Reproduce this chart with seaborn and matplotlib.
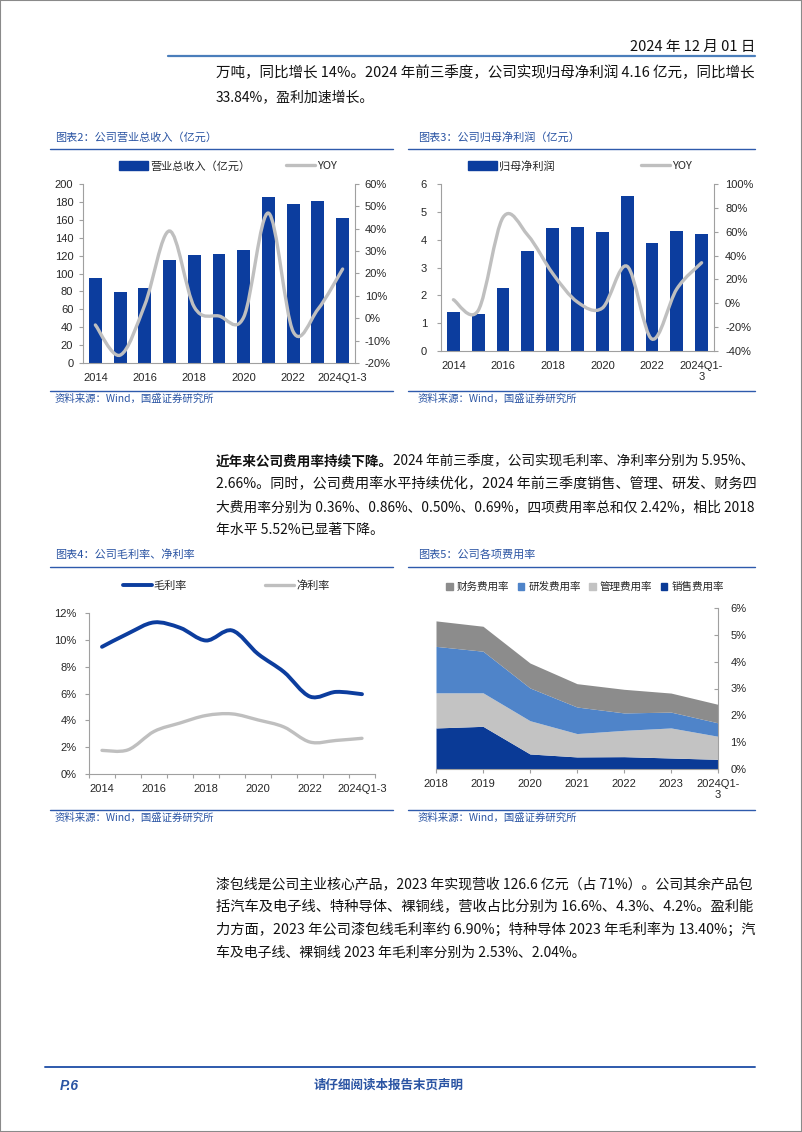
import matplotlib
matplotlib.use("Agg")
import matplotlib.pyplot as plt
import seaborn as sns
import numpy as np
from matplotlib.path import Path
from matplotlib.patches import PathPatch, Patch, Rectangle
from matplotlib.lines import Line2D

# ---- data ----
years = ["2014", "2015", "2016", "2017", "2018", "2019", "2020",
         "2021", "2022", "2023", "2024Q1-3"]
revenue = [94.6, 78.9, 83.7, 115.0, 120.7, 121.9, 126.7, 185.0, 177.6, 180.6, 162.0]
revenue_yoy = [-3.0, -16.5, 6.0, 39.0, 5.0, 1.0, 0.5, 47.0, -6.0, 4.0, 22.0]
profit = [1.39, 1.34, 2.28, 3.59, 4.43, 4.44, 4.26, 5.56, 3.87, 4.32, 4.21]
profit_yoy = [3.0, -6.0, 72.0, 57.0, 25.0, 1.0, -4.0, 31.0, -30.0, 12.0, 34.0]
gross_margin = [9.48, 10.47, 11.3, 10.9, 9.95, 10.7, 8.95, 7.6, 5.77, 6.12, 5.95]
net_margin = [1.76, 1.8, 3.17, 3.8, 4.36, 4.48, 4.03, 3.5, 2.38, 2.5, 2.66]

cost_years = ["2018", "2019", "2020", "2021", "2022", "2023", "2024Q1-\n3"]
sales_rate = [1.53, 1.59, 0.56, 0.45, 0.46, 0.41, 0.36]
admin_rate = [1.31, 1.25, 1.24, 0.87, 0.98, 1.12, 0.86]
rd_rate = [1.73, 1.55, 1.22, 0.99, 0.65, 0.59, 0.50]
fin_rate = [0.95, 0.93, 0.93, 0.87, 0.88, 0.71, 0.69]

BAR = "#0C3D9E"
YOY_GRAY = "#BFBFBF"
TITLE_BLUE = "#2A54A3"
RULE_BLUE = "#2E5AAC"
AXIS = "#A0A0A0"
FIN_C = "#8C8C8C"
RD_C = "#4F84C9"
ADMIN_C = "#C3C3C3"
SALES_C = "#0A3A96"
TXT = "#111111"
TICK_FS = 8
LEG_FS = 8

sns.set_style("white")
plt.rcParams["font.family"] = ["Liberation Sans", "Noto Sans CJK SC"]
CJK = ["Noto Sans CJK SC", "Liberation Sans"]

W, H = 802, 1132
fig = plt.figure(figsize=(W / 100, H / 100), dpi=100)
renderer = fig.canvas.get_renderer()


def fx(x):
    return x / W


def fy(y):
    return 1 - y / H


def box(l, t, r, b):
    return [l / W, 1 - b / H, (r - l) / W, (b - t) / H]


def smooth_path(xs, ys):
    # excel-like smoothed line (catmull-rom as bezier)
    n = len(xs)
    verts = [(xs[0], ys[0])]
    codes = [Path.MOVETO]
    for i in range(n - 1):
        a = max(i - 1, 0)
        d = min(i + 2, n - 1)
        c1 = (xs[i] + (xs[i + 1] - xs[a]) / 6, ys[i] + (ys[i + 1] - ys[a]) / 6)
        c2 = (xs[i + 1] - (xs[d] - xs[i]) / 6, ys[i + 1] - (ys[d] - ys[i]) / 6)
        verts += [c1, c2, (xs[i + 1], ys[i + 1])]
        codes += [Path.CURVE4] * 3
    return Path(verts, codes)


def hline(x0, x1, y, color=RULE_BLUE, lw=1.0):
    fig.add_artist(Line2D([fx(x0), fx(x1)], [fy(y), fy(y)], color=color, lw=lw,
                          transform=fig.transFigure))


def spines(ax, show):
    for s in ["left", "right", "top", "bottom"]:
        ax.spines[s].set_visible(s in show)
        ax.spines[s].set_color(AXIS)
        ax.spines[s].set_linewidth(0.8)


def chart_frame(x0, x1, ytitle, ybottom, title, tx):
    fig.text(fx(tx), fy(ytitle), title, family=CJK, fontsize=8, color=TITLE_BLUE,
             style="italic", va="center", ha="left")
    hline(x0, x1, ytitle + 12)
    hline(x0, x1, ybottom)
    fig.text(fx(tx), fy(ybottom + 8), "资料来源：Wind，国盛证券研究所", family=CJK,
             fontsize=7.5, color=TITLE_BLUE, style="italic", va="center", ha="left")


body = dict(family=CJK, color=TXT, va="center", ha="left")
LEFT, RIGHT = 216, 755


def body_line(y, parts, justify=True):
    # parts: (text, weight); full lines are stretched to the column width
    objs = []
    x = LEFT
    for s, w in parts:
        t = fig.text(fx(x), fy(y), s, fontsize=10, fontweight=w, **body)
        x = t.get_window_extent(renderer).x1
        objs.append(t)
    if justify:
        scale = min(max((RIGHT - LEFT) / (x - LEFT), 0.94), 1.06)
        x = LEFT
        for t in objs:
            t.set_fontsize(10 * scale)
            t.set_x(fx(x))
            x = t.get_window_extent(renderer).x1


# ---- page furniture ----
fig.add_artist(Rectangle((0, 0), 1, 1, transform=fig.transFigure, fill=False,
                         ec="#8A8A8A", lw=1.5))
fig.text(fx(755), fy(47), "2024 年 12 月 01 日", family=CJK, fontsize=10.5,
         color=TXT, ha="right", va="center")
hline(168, 755, 56, color="#4A7EBB", lw=1.6)

body_line(73, [("万吨，同比增长 14%。2024 年前三季度，公司实现归母净利润 4.16 亿元，同比增长", "normal")])
body_line(97, [("33.84%，盈利加速增长。", "normal")], justify=False)

# ---- 图表2 revenue ----
chart_frame(50, 393, 137, 391, "图表2：公司营业总收入（亿元）", 55)
ax = fig.add_axes(box(83, 184, 355, 363))
sns.barplot(x=years, y=revenue, color=BAR, saturation=1, width=0.52, linewidth=0, ax=ax)
ax.set_xlim(-0.5, 10.5)
ax.set_ylim(0, 200)
ax.set_yticks(range(0, 201, 20))
ax.set_xticks(range(0, 11, 2))
ax.set_xticklabels(years[::2])
ax.set_xlabel("")
ax.set_ylabel("")
spines(ax, ["left", "bottom"])
ax.tick_params(axis="y", length=3, color=AXIS, width=0.8, labelsize=TICK_FS, pad=4, left=True)
ax.tick_params(axis="x", length=0, labelsize=TICK_FS, pad=7)
ax2 = ax.twinx()
ax2.set_ylim(-20, 60)
ax2.set_yticks(range(-20, 61, 10))
ax2.set_yticklabels([f"{v}%" for v in range(-20, 61, 10)])
spines(ax2, ["right"])
ax2.tick_params(axis="y", length=3, color=AXIS, width=0.8, labelsize=TICK_FS, pad=4, right=True)
ax2.add_patch(PathPatch(smooth_path(np.arange(len(years)), revenue_yoy), fill=False,
                        ec=YOY_GRAY, lw=2.4, capstyle="round"))
ax.legend(handles=[Patch(color=BAR), Line2D([0], [0], color=YOY_GRAY, lw=2.4)],
          labels=["营业总收入（亿元）", "YOY"], loc="center",
          bbox_to_anchor=(fx(228), fy(166)), bbox_transform=fig.transFigure,
          ncol=2, frameon=False, prop={"family": CJK, "size": LEG_FS},
          handlelength=2.6, handleheight=0.8, handletextpad=0.2, columnspacing=3.2)

# ---- 图表3 net profit ----
chart_frame(408, 755, 137, 391, "图表3：公司归母净利润（亿元）", 418)
ax = fig.add_axes(box(441, 184, 714, 351))
sns.barplot(x=years, y=profit, color=BAR, saturation=1, width=0.52, linewidth=0, ax=ax)
ax.set_xlim(-0.5, 10.5)
ax.set_ylim(0, 6)
ax.set_yticks(range(0, 7))
ax.set_xticks(range(0, 11, 2))
ax.set_xticklabels(["2014", "2016", "2018", "2020", "2022", "2024Q1-\n3"])
ax.set_xlabel("")
ax.set_ylabel("")
spines(ax, ["left", "bottom"])
ax.tick_params(axis="y", length=3, color=AXIS, width=0.8, labelsize=TICK_FS, pad=7, left=True)
ax.tick_params(axis="x", length=0, labelsize=TICK_FS, pad=7)
ax2 = ax.twinx()
ax2.set_ylim(-40, 100)
ax2.set_yticks(range(-40, 101, 20))
ax2.set_yticklabels([f"{v}%" for v in range(-40, 101, 20)])
spines(ax2, ["right"])
ax2.tick_params(axis="y", length=3, color=AXIS, width=0.8, labelsize=TICK_FS, pad=5, right=True)
ax2.add_patch(PathPatch(smooth_path(np.arange(len(years)), profit_yoy), fill=False,
                        ec=YOY_GRAY, lw=2.4, capstyle="round"))
ax.legend(handles=[Patch(color=BAR), Line2D([0], [0], color=YOY_GRAY, lw=2.4)],
          labels=["归母净利润", "YOY"], loc="center",
          bbox_to_anchor=(fx(580), fy(166)), bbox_transform=fig.transFigure,
          ncol=2, frameon=False, prop={"family": CJK, "size": LEG_FS},
          handlelength=2.6, handleheight=0.8, handletextpad=0.2, columnspacing=7.8)

# ---- paragraph 2 ----
body_line(461, [("近年来公司费用率持续下降。", "bold"),
                ("2024 年前三季度，公司实现毛利率、净利率分别为 5.95%、", "normal")])
body_line(484, [("2.66%。同时，公司费用率水平持续优化，2024 年前三季度销售、管理、研发、财务四", "normal")])
body_line(507, [("大费用率分别为 0.36%、0.86%、0.50%、0.69%，四项费用率总和仅 2.42%，相比 2018", "normal")])
body_line(530, [("年水平 5.52%已显著下降。", "normal")], justify=False)

# ---- 图表4 margins ----
chart_frame(50, 393, 555, 810, "图表4：公司毛利率、净利率", 55)
ax = fig.add_axes(box(89, 613, 375, 774))
xs = np.arange(len(years))
ax.set_xlim(-0.5, 10.5)
ax.set_ylim(0, 12)
ax.add_patch(PathPatch(smooth_path(xs, net_margin), fill=False, ec=YOY_GRAY, lw=2.4,
                       capstyle="round"))
ax.add_patch(PathPatch(smooth_path(xs, gross_margin), fill=False, ec=BAR, lw=2.8,
                       capstyle="round"))
ax.set_yticks(range(0, 13, 2))
ax.set_yticklabels([f"{v}%" for v in range(0, 13, 2)])
ax.set_xticks(range(0, 11, 2))
ax.set_xticklabels(years[::2])
ax.set_xticks(np.arange(-0.5, 11, 1), minor=True)
spines(ax, ["left", "bottom"])
ax.tick_params(axis="y", length=3, color=AXIS, width=0.8, labelsize=TICK_FS, pad=6, left=True)
ax.tick_params(axis="x", which="major", length=0, labelsize=TICK_FS, pad=7)
ax.tick_params(axis="x", which="minor", length=3, color=AXIS, width=0.8, bottom=True)
ax.legend(handles=[Line2D([0], [0], color=BAR, lw=2.8), Line2D([0], [0], color=YOY_GRAY, lw=2.4)],
          labels=["毛利率", "净利率"], loc="center",
          bbox_to_anchor=(fx(226), fy(586)), bbox_transform=fig.transFigure,
          ncol=2, frameon=False, prop={"family": CJK, "size": LEG_FS},
          handlelength=2.6, handletextpad=0.2, columnspacing=7.0)

# ---- 图表5 expense rates ----
chart_frame(408, 755, 555, 810, "图表5：公司各项费用率", 418)
ax = fig.add_axes(box(436, 608, 718, 769))
cx = np.arange(len(cost_years))
ax.stackplot(cx, sales_rate, admin_rate, rd_rate, fin_rate,
             colors=[SALES_C, ADMIN_C, RD_C, FIN_C], linewidth=0)
ax.set_xlim(0, len(cost_years) - 1)
ax.set_ylim(0, 6)
ax.yaxis.tick_right()
ax.set_yticks(range(0, 7))
ax.set_yticklabels([f"{v}%" for v in range(0, 7)])
ax.set_xticks(cx)
ax.set_xticklabels(cost_years)
spines(ax, ["right", "bottom"])
ax.tick_params(axis="y", direction="in", length=3, color=AXIS, width=0.8, labelsize=TICK_FS,
               pad=9, right=True, left=False)
ax.tick_params(axis="x", length=3, color=AXIS, width=0.8, labelsize=TICK_FS, pad=4, bottom=True)
ax.legend(handles=[Patch(color=FIN_C), Patch(color=RD_C), Patch(color=ADMIN_C), Patch(color=SALES_C)],
          labels=["财务费用率", "研发费用率", "管理费用率", "销售费用率"], loc="center",
          bbox_to_anchor=(fx(585), fy(587)), bbox_transform=fig.transFigure,
          ncol=4, frameon=False, prop={"family": CJK, "size": 7.6},
          handlelength=0.6, handleheight=0.6, handletextpad=0.4, columnspacing=0.8)

# ---- paragraph 3 ----
body_line(884, [("漆包线是公司主业核心产品，2023 年实现营收 126.6 亿元（占 71%）。公司其余产品包", "normal")])
body_line(907, [("括汽车及电子线、特种导体、裸铜线，营收占比分别为 16.6%、4.3%、4.2%。盈利能", "normal")])
body_line(930, [("力方面，2023 年公司漆包线毛利率约 6.90%；特种导体 2023 年毛利率为 13.40%；汽", "normal")])
body_line(953, [("车及电子线、裸铜线 2023 年毛利率分别为 2.53%、2.04%。", "normal")], justify=False)

# ---- footer ----
hline(45, 755, 1067, lw=1.4)
fig.text(fx(60), fy(1086), "P.6", fontsize=10, fontweight="bold", style="italic",
         color=TITLE_BLUE, va="center", ha="left")
fig.text(fx(389), fy(1085), "请仔细阅读本报告末页声明", family=CJK, fontsize=9,
         fontweight="bold", color=TITLE_BLUE, va="center", ha="center")

fig.savefig("out.png", dpi=100)
